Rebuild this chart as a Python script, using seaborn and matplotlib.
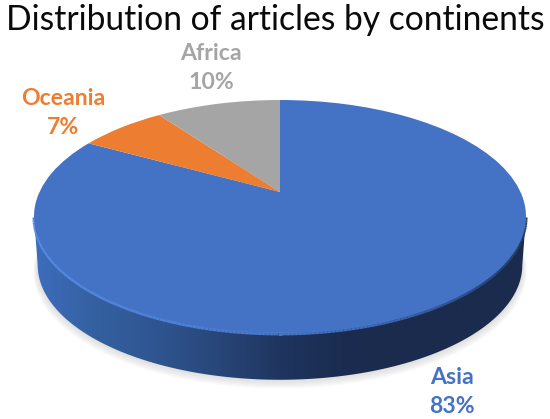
import numpy as np
import matplotlib
matplotlib.use("Agg")
import matplotlib.pyplot as plt
import seaborn as sns
from matplotlib.collections import LineCollection
from matplotlib.patches import Polygon
from matplotlib.transforms import Transform

continents = ["Asia", "Oceania", "Africa"]
shares = [83, 7, 10]
colors = ["#4472c4", "#ed7d31", "#a5a5a5"]
label_xy = [(452, 392), (63, 113), (211, 68)]
chart_title = "Distribution of articles by continents"

# pie geometry in image pixels
APEX_X, APEX_Y = 280, 192
TILT = 0.21
RX, RY = 240.5, 111.3
DEPTH = 49


class Tilted(Transform):
    """Project the flat unit pie onto the tilted disc (far side looks smaller)."""
    input_dims = 2
    output_dims = 2

    def __init__(self, scale=1.0, dy=0.0):
        super().__init__()
        self.scale = scale
        self.dy = dy

    def transform_non_affine(self, values):
        u, v = values[:, 0], values[:, 1]
        w = 1 + TILT * v
        x = APEX_X + self.scale * RX * u / w
        y = APEX_Y + self.dy - self.scale * RY * v / w
        return np.column_stack([x, y])


def rim(theta, scale=1.0, dy=0.0):
    return Tilted(scale, dy).transform_non_affine(np.column_stack([np.cos(theta), np.sin(theta)]))


sns.set_theme(style="white")
plt.rcParams["font.family"] = ["Lato", "DejaVu Sans"]

fig = plt.figure(figsize=(5.5, 4.19), dpi=100)
ax = fig.add_axes([0, 0, 1, 1])

wedges, _ = ax.pie(shares, colors=colors, startangle=90, counterclock=False,
                   wedgeprops={"linewidth": 0})
for w in wedges:
    w.set_transform(Tilted() + ax.transData)
    w.set_zorder(5)
    w.set_clip_on(False)

ax.set_aspect("auto")
ax.set_xlim(0, 550)
ax.set_ylim(419, 0)
ax.axis("off")

# soft shadow under the disc
t_all = np.linspace(0, 2 * np.pi, 240)
for grow in range(1, 8):
    ax.add_patch(Polygon(rim(t_all, 0.985 + grow * 0.0025, DEPTH + grow * 0.9),
                         facecolor="#808080", alpha=0.035, edgecolor="none", zorder=1))

# side band, gradient runs from left to right
skew = np.arcsin(TILT)
t_front = np.linspace(np.pi + skew, 2 * np.pi - skew, 200)
band = np.vstack([rim(t_front), rim(t_front[::-1], 0.985, DEPTH)])
band_patch = Polygon(band, facecolor="none", edgecolor="none", zorder=2)
ax.add_patch(band_patch)
side_cmap = sns.blend_palette(["#3d6dbd", "#34609f", "#2f5590", "#284679", "#1f355f",
                               "#1a2c50", "#1a2b4d", "#1a2b4d", "#1a2b4d"], as_cmap=True)
img = ax.imshow(np.linspace(0, 1, 256).reshape(1, -1), cmap=side_cmap, aspect="auto",
                extent=(34, 526, 419, 0), zorder=2)
img.set_clip_path(band_patch)
ax.set_xlim(0, 550)
ax.set_ylim(419, 0)

# bevel on the front edge: bright on the left, dark on the right
pts = rim(t_front, 1.0, 1.0)
segs = np.stack([pts[:-1], pts[1:]], axis=1)
bevel_cmap = sns.blend_palette(["#5b8fe6", "#5388e0", "#4c7fd6", "#3f6bb8", "#2a4a85", "#22395f"],
                               as_cmap=True)
ax.add_collection(LineCollection(segs, colors=bevel_cmap(np.linspace(0, 1, len(segs))),
                                 linewidth=2.2, zorder=4))

ax.text(275, 20, chart_title, ha="center", va="center", fontsize=24.2, color="#0a0a0a", zorder=6)

for name, share, color, (x, y) in zip(continents, shares, colors, label_xy):
    ax.text(x, y, f"{name}\n{share}%", ha="center", va="center", color=color,
            fontsize=16.6, fontweight="bold", linespacing=1.42, zorder=6)

fig.savefig("out.png", dpi=100)
